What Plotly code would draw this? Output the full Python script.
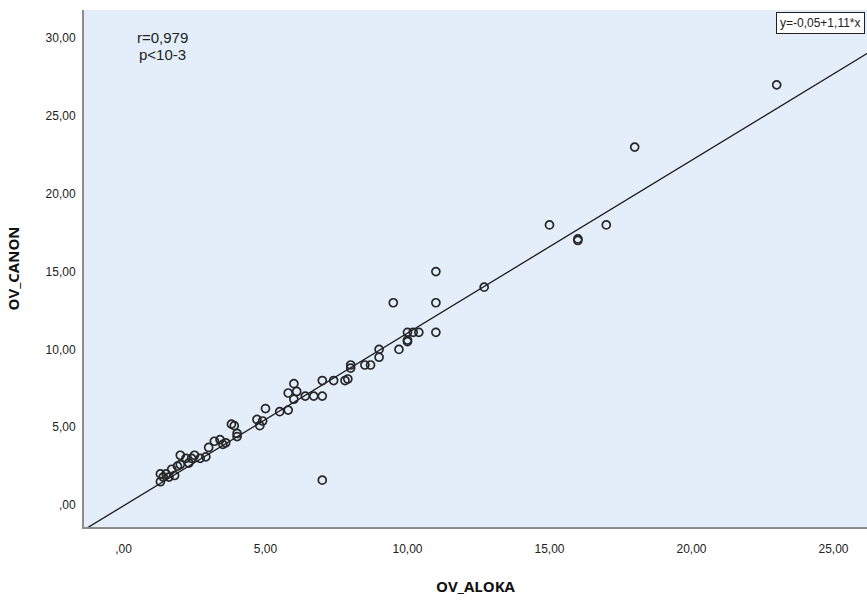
import plotly.graph_objects as go

# Data
ov_aloka = [1.3, 1.3, 1.4, 1.5, 1.6, 1.7, 1.8, 1.9, 2.0, 2.0, 2.2, 2.3, 2.4, 2.5, 2.7,
            2.9, 3.0, 3.2, 3.4, 3.5, 3.6, 3.8, 3.9, 4.0, 4.0, 4.7, 4.8, 4.9, 5.0, 5.5,
            5.8, 5.8, 6.0, 6.0, 6.1, 6.4, 6.7, 7.0, 7.0, 7.0, 7.4, 7.8, 7.9, 8.0, 8.0,
            8.5, 8.7, 9.0, 9.0, 9.5, 9.7, 10.0, 10.0, 10.0, 10.2, 10.4, 11.0, 11.0, 11.0,
            12.7, 15.0, 16.0, 16.0, 17.0, 18.0, 23.0]
ov_canon = [1.5, 2.0, 1.8, 2.0, 1.8, 2.3, 1.9, 2.5, 2.6, 3.2, 3.0, 2.7, 3.0, 3.2, 3.0,
            3.1, 3.7, 4.1, 4.2, 3.9, 4.0, 5.2, 5.1, 4.4, 4.6, 5.5, 5.1, 5.4, 6.2, 6.0,
            6.1, 7.2, 7.8, 6.8, 7.3, 7.0, 7.0, 7.0, 8.0, 1.6, 8.0, 8.0, 8.1, 9.0, 8.8,
            9.0, 9.0, 10.0, 9.5, 13.0, 10.0, 10.5, 10.6, 11.1, 11.1, 11.1, 11.1, 13.0, 15.0,
            14.0, 18.0, 17.0, 17.1, 18.0, 23.0, 27.0]

fit_intercept = -0.05
fit_slope = 1.11

x_ticks = [0, 5, 10, 15, 20, 25]
x_ticktext = [",00", "5,00", "10,00", "15,00", "20,00", "25,00"]
y_ticks = [0, 5, 10, 15, 20, 25, 30]
y_ticktext = [",00", "5,00", "10,00", "15,00", "20,00", "25,00", "30,00"]

x_range = [-1.39, 26.18]
y_range = [-1.41, 31.81]

fit_x = [-1.3, x_range[1]]
fit_y = [fit_intercept + fit_slope * v for v in fit_x]

fig = go.Figure()
fig.add_trace(go.Scatter(
    x=fit_x, y=fit_y, mode="lines",
    line=dict(color="#1a1a1a", width=1.3),
    hoverinfo="skip", showlegend=False, cliponaxis=True,
))
fig.add_trace(go.Scatter(
    x=ov_aloka, y=ov_canon, mode="markers",
    marker=dict(symbol="circle-open", size=8, color="#262626", line=dict(width=1.7)),
    showlegend=False,
))

fig.add_annotation(
    x=(163 - 123.8) / 28.39, y=(505 - 38) / 15.56, xref="x", yref="y",
    text="r=0,979", showarrow=False, align="center",
    font=dict(family="Liberation Sans, Arial", size=15, color="#222"),
)
fig.add_annotation(
    x=(163 - 123.8) / 28.39, y=(505 - 55) / 15.56, xref="x", yref="y",
    text="p<10-3", showarrow=False, align="center",
    font=dict(family="Liberation Sans, Arial", size=15, color="#222"),
)
fig.add_annotation(
    x=0.998, y=31.0, xref="paper", yref="y", xanchor="right", yanchor="middle",
    text="y=-0,05+1,11*x", showarrow=False, align="left",
    font=dict(family="Liberation Sans, Arial", size=12, color="#222"),
    bgcolor="white", bordercolor="#222", borderwidth=1, borderpad=3,
)

fig.update_layout(
    width=867, height=603,
    margin=dict(l=84, r=0, t=10, b=76),
    paper_bgcolor="white",
    plot_bgcolor="#E3EEFA",
    font=dict(family="Liberation Sans, Arial", size=12, color="#222"),
    xaxis=dict(
        range=x_range, tickvals=x_ticks, ticktext=x_ticktext,
        showgrid=False, zeroline=False, showline=True, linecolor="#8c8c8c", linewidth=2,
        ticks="", ticklabelstandoff=10,
        title=dict(text="<b>OV_ALOKA</b>", font=dict(family="Open Sans", size=15, color="#111"),
                   standoff=26),
    ),
    yaxis=dict(
        range=y_range, tickvals=y_ticks, ticktext=y_ticktext,
        showgrid=False, zeroline=False, showline=True, linecolor="#8c8c8c", linewidth=2,
        ticks="", ticklabelstandoff=4,
        title=dict(text="<b>OV_CANON</b>", font=dict(family="Open Sans", size=15, color="#111"),
                   standoff=22),
    ),
)

fig.write_html("out.html")
